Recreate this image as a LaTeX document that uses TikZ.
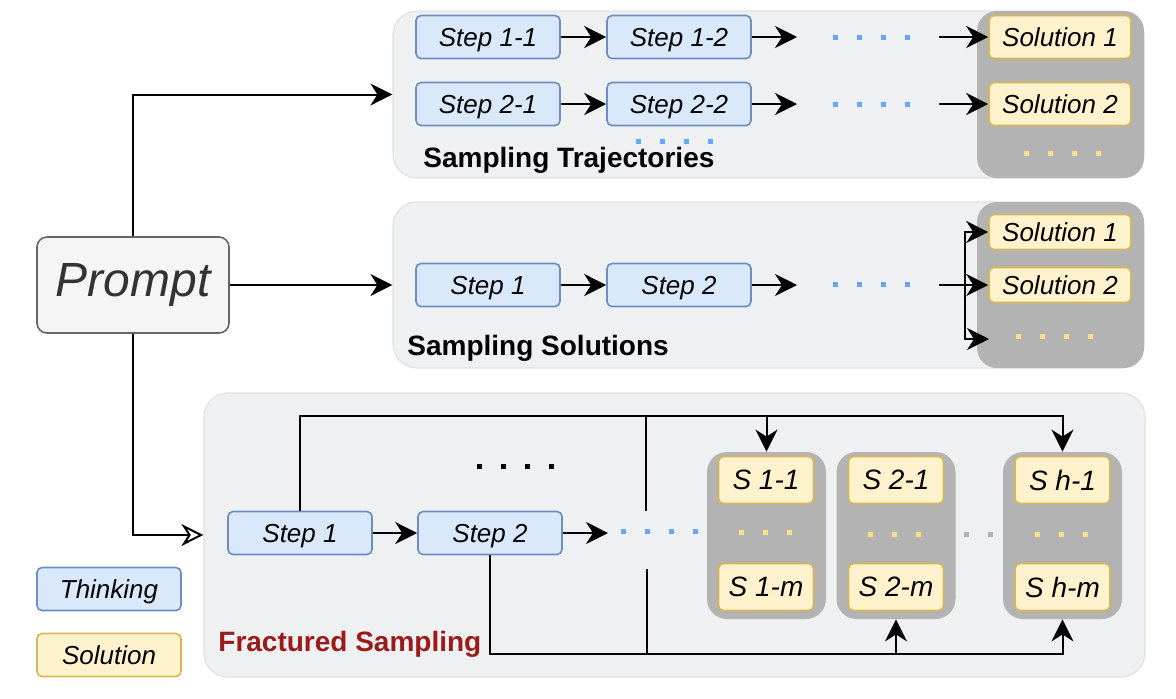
\documentclass[tikz,border=0pt]{standalone}
\usepackage{fontspec}
\setmainfont{Liberation Sans}
\usetikzlibrary{arrows.meta}

\definecolor{thinkfill}{HTML}{DAE8FC}
\definecolor{thinkline}{HTML}{6C8EBF}
\definecolor{solfill}{HTML}{FFF2CC}
\definecolor{solline}{HTML}{D6B656}
\definecolor{groupgray}{HTML}{B3B3B3}
\definecolor{panelfill}{HTML}{EFF0F2}
\definecolor{panelline}{HTML}{E0E2E5}
\definecolor{promptfill}{HTML}{F5F5F5}
\definecolor{promptline}{HTML}{666666}
\definecolor{prompttext}{HTML}{333333}
\definecolor{dotblue}{HTML}{66A8F5}
\definecolor{dotyellow}{HTML}{FFE08A}
\definecolor{fracred}{HTML}{9A1B17}

\tikzset{
  thinking/.style={draw=thinkline, fill=thinkfill, line width=0.8pt, rounded corners=2.5pt,
    minimum width=72pt, minimum height=21.5pt, inner sep=0pt, text depth=0pt,
    font=\itshape\fontsize{13}{15}\selectfont},
  solution/.style={draw=solline, fill=solfill, line width=0.8pt, rounded corners=2.5pt,
    minimum width=71pt, minimum height=21.5pt, inner sep=0pt, text depth=0pt,
    font=\itshape\fontsize{13}{15}\selectfont},
  sbox/.style={solution, minimum width=47.5pt, minimum height=23.5pt, font=\itshape\fontsize{14}{16}\selectfont},
  group/.style={fill=groupgray, rounded corners=10pt, inner sep=0pt},
  panel/.style={fill=panelfill, draw=panelline, line width=0.6pt, rounded corners=12pt, inner sep=0pt},
  title/.style={anchor=west, inner sep=0pt, font=\bfseries\fontsize{14}{16}\selectfont},
  arrow/.style={-{Stealth[length=11pt,width=11pt,inset=3.5pt]}, line width=1pt},
  openarrow/.style={-{Stealth[open,length=11pt,width=11pt,inset=3.5pt]}, line width=1pt},
  bluedots/.style={draw=dotblue, line width=2.5pt, dash pattern=on 2.5pt off 9.5pt},
  yellowdots/.style={bluedots, draw=dotyellow},
  graydots/.style={bluedots, draw=groupgray},
  blackdots/.style={bluedots, draw=black}
}

\begin{document}
\begin{tikzpicture}[x=0.5pt,y=-0.5pt]
\useasboundingbox (0,0) rectangle (1176,698);

% panels
\node[panel, minimum width=375.5pt, minimum height=83.5pt] (traj) at (768.5,94.5) {};
\node[panel, minimum width=375.5pt, minimum height=83pt] (sols) at (768.5,285) {};
\node[panel, minimum width=470.5pt, minimum height=142pt] (frac) at (674.5,535) {};

\node[group, minimum width=83.5pt, minimum height=83.5pt] (trajgroup) at (1060.5,94.5) {};
\node[group, minimum width=83.5pt, minimum height=83pt] (solsgroup) at (1060.5,285) {};
\node[group, minimum width=59.5pt, minimum height=83.5pt] (g1) at (766.5,535.5) {};
\node[group, minimum width=59.5pt, minimum height=83.5pt] (g2) at (896,535.5) {};
\node[group, minimum width=59.5pt, minimum height=83.5pt] (gh) at (1062.5,535.5) {};

\node[title] (trajlabel) at (423,160) {Sampling Trajectories};
\node[title] (solslabel) at (407,348) {Sampling Solutions};
\node[title, text=fracred] (fraclabel) at (218,644) {Fractured Sampling};

% prompt
\node[draw=promptline, fill=promptfill, line width=0.8pt, rounded corners=5pt, minimum width=96pt,
  minimum height=48pt, text=prompttext, font=\itshape\fontsize{24}{28}\selectfont] (prompt) at (133,285) {Prompt};

\draw[arrow] (prompt.north) |- (traj.west);
\draw[arrow] (prompt.east) -- (sols.west);
\draw[openarrow] (prompt.south) |- (frac.west);

% sampling trajectories
\node[thinking] (t11) at (488,37) {Step 1-1};
\node[thinking] (t12) at (679,37) {Step 1-2};
\node[thinking] (t21) at (488,104) {Step 2-1};
\node[thinking] (t22) at (679,104) {Step 2-2};
\node[solution] (tsol1) at (1060,37) {Solution 1};
\node[solution] (tsol2) at (1060,104) {Solution 2};

\coordinate (t1end) at (797,37);
\coordinate (t1start) at (939,37);
\coordinate (t2end) at (797,104);
\coordinate (t2start) at (939,104);
\draw[arrow] (t11) -- (t12);
\draw[arrow] (t12) -- (t1end);
\draw[arrow] (t1start) -- (tsol1);
\draw[arrow] (t21) -- (t22);
\draw[arrow] (t22) -- (t2end);
\draw[arrow] (t2start) -- (tsol2);

\draw[bluedots] (832.5,37) -- (909.5,37);
\draw[bluedots] (832.5,104) -- (909.5,104);
\draw[bluedots] (635.5,141) -- (712.5,141);
\draw[yellowdots] (1023.5,153) -- (1100.5,153);

% sampling solutions
\node[thinking] (s1) at (488,285) {Step 1};
\node[thinking] (s2) at (679,285) {Step 2};
\node[solution, minimum height=17.5pt] (ssol1) at (1060,232) {Solution 1};
\node[solution, minimum height=17.5pt] (ssol2) at (1060,285) {Solution 2};

\coordinate (send) at (797,285);
\coordinate (sstart) at (939,285);
\coordinate (bar) at (965,285);
\coordinate (more) at (989,339);
\draw[arrow] (s1) -- (s2);
\draw[arrow] (s2) -- (send);
\draw[arrow] (sstart) -- (ssol2);
\draw[arrow] (bar) |- (ssol1.west);
\draw[arrow] (bar) |- (more);

\draw[bluedots] (832.5,284) -- (909.5,284);
\draw[yellowdots] (1015.5,336) -- (1092.5,336);

% fractured sampling
\node[thinking] (f1) at (300,533) {Step 1};
\node[thinking] (f2) at (490,533) {Step 2};
\node[sbox] (s11) at (766,480) {S 1-1};
\node[sbox] (s1m) at (766,587) {S 1-m};
\node[sbox] (s21) at (896,480) {S 2-1};
\node[sbox] (s2m) at (896,587) {S 2-m};
\node[sbox] (sh1) at (1062.5,480) {S h-1};
\node[sbox] (shm) at (1062.5,587) {S h-m};

\coordinate (f2end) at (608,533);
\coordinate (topline) at (646,416);
\coordinate (midtop) at (646,511);
\coordinate (midbot) at (647,569);
\coordinate (botline) at (647,654);
\draw[arrow] (f1) -- (f2);
\draw[arrow] (f2) -- (f2end);
\draw[arrow] (f1.north) |- (g1.north |- topline) -- (g1.north);
\draw[arrow] (g1.north |- topline) -| (gh.north);
\draw[line width=1pt] (topline) -- (midtop);
\draw[line width=1pt] (midbot) -- (botline);
\draw[arrow] (f2.south) |- (g2.south |- botline) -- (g2.south);
\draw[arrow] (g2.south |- botline) -| (gh.south);

\draw[blackdots] (476.5,466) -- (553.5,466);
\draw[bluedots] (620.5,531) -- (697.5,531);
\draw[yellowdots] (738.5,532) -- (791.5,532);
\draw[yellowdots] (867.5,534) -- (920.5,534);
\draw[yellowdots] (1034.5,534) -- (1087.5,534);
\draw[graydots] (963.5,534) -- (992.5,534);

% legend
\node[thinking] (legthink) at (109,589) {Thinking};
\node[solution, minimum width=72pt] (legsol) at (109,655) {Solution};
\end{tikzpicture}
\end{document}
